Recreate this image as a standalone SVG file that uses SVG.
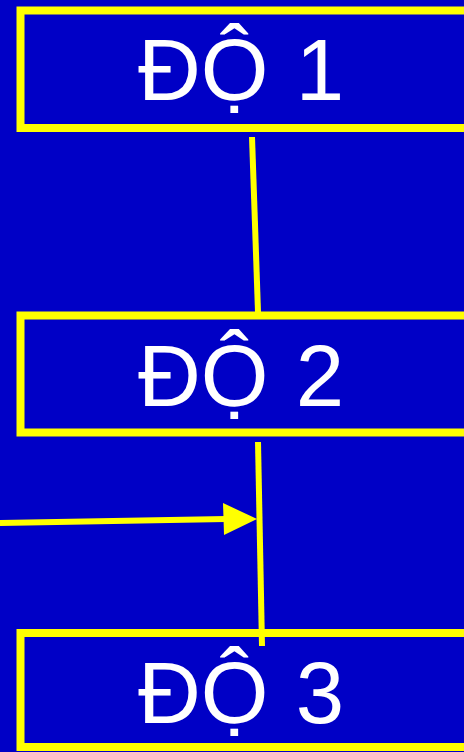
<svg xmlns="http://www.w3.org/2000/svg" width="464" height="752" viewBox="0 0 464 752">
<style>
.box{fill:#0000c6;stroke:#ffff00;stroke-width:8}
.lbl{fill:#ffffff;font-family:"Liberation Sans",Arial,sans-serif;font-size:87px;text-anchor:middle;word-spacing:3px}
.con{stroke:#ffff00;stroke-width:6;fill:none}
</style>
<rect width="464" height="752" fill="#0000c6"/>
<g id="node1">
<rect class="box" x="20.5" y="10.5" width="460" height="117.5"/>
<text class="lbl" x="241" y="100">ĐỘ 1</text>
</g>
<g id="node2">
<rect class="box" x="20.5" y="315.5" width="460" height="117"/>
<text class="lbl" x="241" y="406">ĐỘ 2</text>
</g>
<g id="node3">
<rect class="box" x="20.5" y="633" width="460" height="114"/>
<text class="lbl" x="241" y="723">ĐỘ 3</text>
</g>
<g id="connectors">
<line class="con" x1="252" y1="137" x2="258" y2="312"/>
<line class="con" x1="258" y1="442" x2="262" y2="646"/>
<line class="con" x1="0" y1="523" x2="226" y2="519"/>
<polygon points="223,503 257,519 224,535" fill="#ffff00"/>
</g>
</svg>
